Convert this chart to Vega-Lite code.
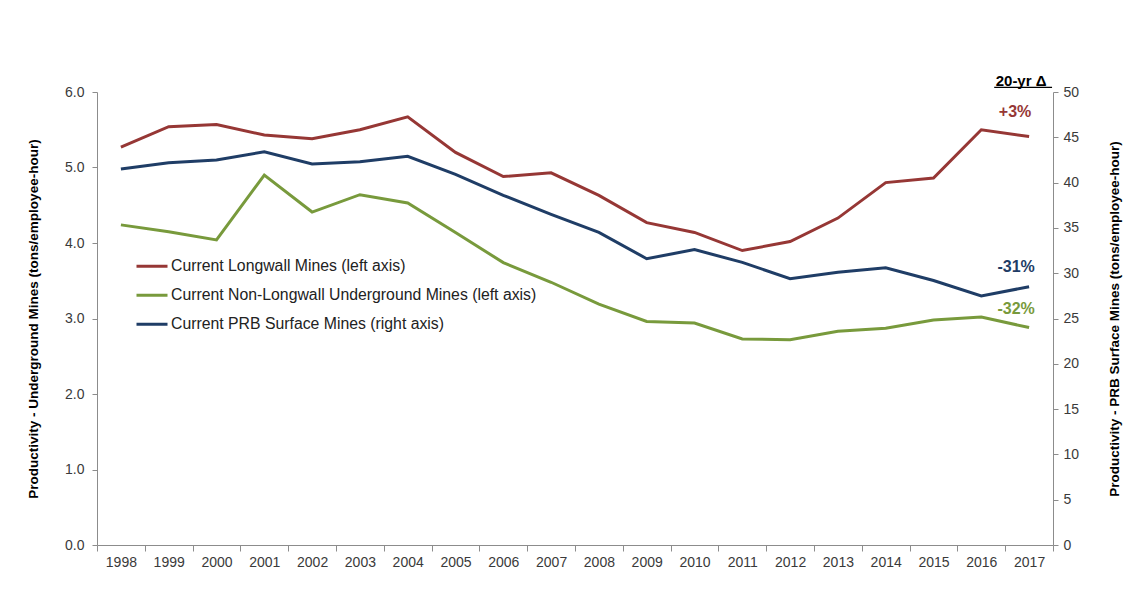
{
  "$schema": "https://vega.github.io/schema/vega-lite/v6.json",
  "autosize": "none",
  "width": 956,
  "height": 453,
  "padding": {"left": 97, "top": 92, "right": 93, "bottom": 60},
  "background": "white",
  "config": {
    "font": "Liberation Sans",
    "view": {"stroke": null},
    "axis": {
      "domainColor": "#8c8c8c",
      "tickColor": "#8c8c8c",
      "labelColor": "#3a3a3a",
      "labelFont": "Liberation Sans",
      "labelFontSize": 14,
      "titleFont": "Liberation Sans",
      "titleFontSize": 13.5,
      "titleFontWeight": "bold",
      "titleColor": "#000000",
      "grid": false
    }
  },
  "datasets": {
    "underground": [
      {"year": "1998", "series": "Current Longwall Mines (left axis)", "value": 5.27},
      {"year": "1999", "series": "Current Longwall Mines (left axis)", "value": 5.54},
      {"year": "2000", "series": "Current Longwall Mines (left axis)", "value": 5.57},
      {"year": "2001", "series": "Current Longwall Mines (left axis)", "value": 5.43},
      {"year": "2002", "series": "Current Longwall Mines (left axis)", "value": 5.38},
      {"year": "2003", "series": "Current Longwall Mines (left axis)", "value": 5.50},
      {"year": "2004", "series": "Current Longwall Mines (left axis)", "value": 5.67},
      {"year": "2005", "series": "Current Longwall Mines (left axis)", "value": 5.20},
      {"year": "2006", "series": "Current Longwall Mines (left axis)", "value": 4.88},
      {"year": "2007", "series": "Current Longwall Mines (left axis)", "value": 4.93},
      {"year": "2008", "series": "Current Longwall Mines (left axis)", "value": 4.63},
      {"year": "2009", "series": "Current Longwall Mines (left axis)", "value": 4.27},
      {"year": "2010", "series": "Current Longwall Mines (left axis)", "value": 4.14},
      {"year": "2011", "series": "Current Longwall Mines (left axis)", "value": 3.90},
      {"year": "2012", "series": "Current Longwall Mines (left axis)", "value": 4.02},
      {"year": "2013", "series": "Current Longwall Mines (left axis)", "value": 4.33},
      {"year": "2014", "series": "Current Longwall Mines (left axis)", "value": 4.80},
      {"year": "2015", "series": "Current Longwall Mines (left axis)", "value": 4.86},
      {"year": "2016", "series": "Current Longwall Mines (left axis)", "value": 5.50},
      {"year": "2017", "series": "Current Longwall Mines (left axis)", "value": 5.41},
      {"year": "1998", "series": "Current Non-Longwall Underground Mines (left axis)", "value": 4.24},
      {"year": "1999", "series": "Current Non-Longwall Underground Mines (left axis)", "value": 4.15},
      {"year": "2000", "series": "Current Non-Longwall Underground Mines (left axis)", "value": 4.04},
      {"year": "2001", "series": "Current Non-Longwall Underground Mines (left axis)", "value": 4.90},
      {"year": "2002", "series": "Current Non-Longwall Underground Mines (left axis)", "value": 4.41},
      {"year": "2003", "series": "Current Non-Longwall Underground Mines (left axis)", "value": 4.64},
      {"year": "2004", "series": "Current Non-Longwall Underground Mines (left axis)", "value": 4.53},
      {"year": "2005", "series": "Current Non-Longwall Underground Mines (left axis)", "value": 4.14},
      {"year": "2006", "series": "Current Non-Longwall Underground Mines (left axis)", "value": 3.74},
      {"year": "2007", "series": "Current Non-Longwall Underground Mines (left axis)", "value": 3.48},
      {"year": "2008", "series": "Current Non-Longwall Underground Mines (left axis)", "value": 3.19},
      {"year": "2009", "series": "Current Non-Longwall Underground Mines (left axis)", "value": 2.96},
      {"year": "2010", "series": "Current Non-Longwall Underground Mines (left axis)", "value": 2.94},
      {"year": "2011", "series": "Current Non-Longwall Underground Mines (left axis)", "value": 2.73},
      {"year": "2012", "series": "Current Non-Longwall Underground Mines (left axis)", "value": 2.72},
      {"year": "2013", "series": "Current Non-Longwall Underground Mines (left axis)", "value": 2.83},
      {"year": "2014", "series": "Current Non-Longwall Underground Mines (left axis)", "value": 2.87},
      {"year": "2015", "series": "Current Non-Longwall Underground Mines (left axis)", "value": 2.98},
      {"year": "2016", "series": "Current Non-Longwall Underground Mines (left axis)", "value": 3.02},
      {"year": "2017", "series": "Current Non-Longwall Underground Mines (left axis)", "value": 2.88}
    ],
    "prb": [
      {"year": "1998", "series": "Current PRB Surface Mines (right axis)", "value": 41.5},
      {"year": "1999", "series": "Current PRB Surface Mines (right axis)", "value": 42.2},
      {"year": "2000", "series": "Current PRB Surface Mines (right axis)", "value": 42.5},
      {"year": "2001", "series": "Current PRB Surface Mines (right axis)", "value": 43.4},
      {"year": "2002", "series": "Current PRB Surface Mines (right axis)", "value": 42.05},
      {"year": "2003", "series": "Current PRB Surface Mines (right axis)", "value": 42.3},
      {"year": "2004", "series": "Current PRB Surface Mines (right axis)", "value": 42.9},
      {"year": "2005", "series": "Current PRB Surface Mines (right axis)", "value": 40.9},
      {"year": "2006", "series": "Current PRB Surface Mines (right axis)", "value": 38.6},
      {"year": "2007", "series": "Current PRB Surface Mines (right axis)", "value": 36.5},
      {"year": "2008", "series": "Current PRB Surface Mines (right axis)", "value": 34.5},
      {"year": "2009", "series": "Current PRB Surface Mines (right axis)", "value": 31.6},
      {"year": "2010", "series": "Current PRB Surface Mines (right axis)", "value": 32.6},
      {"year": "2011", "series": "Current PRB Surface Mines (right axis)", "value": 31.2},
      {"year": "2012", "series": "Current PRB Surface Mines (right axis)", "value": 29.4},
      {"year": "2013", "series": "Current PRB Surface Mines (right axis)", "value": 30.1},
      {"year": "2014", "series": "Current PRB Surface Mines (right axis)", "value": 30.6},
      {"year": "2015", "series": "Current PRB Surface Mines (right axis)", "value": 29.2},
      {"year": "2016", "series": "Current PRB Surface Mines (right axis)", "value": 27.5},
      {"year": "2017", "series": "Current PRB Surface Mines (right axis)", "value": 28.5}
    ],
    "note_longwall": [{"year": "2017", "value": 5.735, "label": "+3%"}],
    "note_prb": [{"year": "2017", "value": 3.68, "label": "-31%"}],
    "note_nonlongwall": [{"year": "2017", "value": 3.126, "label": "-32%"}],
    "note_header": [{"year": "2017", "value": 6.146, "label": "20-yr Δ"}],
    "note_underline": [{"from": "2016", "to": "2017", "value": 6.062}]
  },
  "layer": [
    {
      "layer": [
        {
          "data": {"name": "underground"},
          "mark": {"type": "line", "strokeWidth": 3},
          "encoding": {
            "x": {
              "field": "year", "type": "ordinal", "bandPosition": 0.5,
              "scale": {"type": "band", "paddingInner": 0, "paddingOuter": 0},
              "axis": {"title": null, "labelAngle": 0, "tickBand": "extent", "tickSize": 6, "labelPadding": 4}
            },
            "y": {
              "field": "value", "type": "quantitative",
              "scale": {"domain": [0, 6], "nice": false},
              "axis": {"title": "Productivity - Underground Mines (tons/employee-hour)", "values": [0, 1, 2, 3, 4, 5, 6], "format": ".1f", "tickSize": 5, "labelPadding": 8, "titlePadding": 24}
            },
            "color": {
              "field": "series", "type": "nominal",
              "scale": {
                "domain": ["Current Longwall Mines (left axis)", "Current Non-Longwall Underground Mines (left axis)", "Current PRB Surface Mines (right axis)"],
                "range": ["#963735", "#789a3c", "#1f3d66"]
              },
              "legend": {
                "title": null, "orient": "none", "legendX": 38, "legendY": 160,
                "padding": 0, "symbolType": "stroke", "symbolSize": 961, "symbolStrokeWidth": 3,
                "labelFontSize": 15.8, "labelFont": "Liberation Sans", "labelColor": "#222222",
                "labelOffset": 2, "rowPadding": 0, "clipHeight": 28.5, "labelLimit": 600
              }
            }
          }
        },
        {
          "data": {"name": "note_longwall"},
          "mark": {"type": "text", "color": "#963735", "fontSize": 16, "fontWeight": "bold", "dx": -14, "baseline": "middle"},
          "encoding": {
            "x": {"field": "year", "type": "ordinal", "bandPosition": 0.5},
            "y": {"field": "value", "type": "quantitative"},
            "text": {"field": "label"}
          }
        },
        {
          "data": {"name": "note_prb"},
          "mark": {"type": "text", "color": "#1f3d66", "fontSize": 16, "fontWeight": "bold", "dx": -13, "baseline": "middle"},
          "encoding": {
            "x": {"field": "year", "type": "ordinal", "bandPosition": 0.5},
            "y": {"field": "value", "type": "quantitative"},
            "text": {"field": "label"}
          }
        },
        {
          "data": {"name": "note_nonlongwall"},
          "mark": {"type": "text", "color": "#789a3c", "fontSize": 16, "fontWeight": "bold", "dx": -13, "baseline": "middle"},
          "encoding": {
            "x": {"field": "year", "type": "ordinal", "bandPosition": 0.5},
            "y": {"field": "value", "type": "quantitative"},
            "text": {"field": "label"}
          }
        },
        {
          "data": {"name": "note_header"},
          "mark": {"type": "text", "color": "#000000", "fontSize": 15, "fontWeight": "bold", "dx": -8, "baseline": "middle"},
          "encoding": {
            "x": {"field": "year", "type": "ordinal", "bandPosition": 0.5},
            "y": {"field": "value", "type": "quantitative"},
            "text": {"field": "label"}
          }
        },
        {
          "data": {"name": "note_underline"},
          "mark": {"type": "rule", "color": "#000000", "strokeWidth": 1.2},
          "encoding": {
            "x": {"field": "from", "type": "ordinal", "bandPosition": 0.77},
            "x2": {"field": "to", "bandPosition": 0.98},
            "y": {"field": "value", "type": "quantitative"}
          }
        }
      ]
    },
    {
      "data": {"name": "prb"},
      "mark": {"type": "line", "strokeWidth": 3},
      "encoding": {
        "x": {"field": "year", "type": "ordinal", "bandPosition": 0.5},
        "y": {
          "field": "value", "type": "quantitative",
          "scale": {"domain": [0, 50], "nice": false},
          "axis": {"orient": "right", "title": "Productivity - PRB Surface Mines (tons/employee-hour)", "titleAngle": 270, "values": [0, 5, 10, 15, 20, 25, 30, 35, 40, 45, 50], "tickSize": 5, "labelPadding": 5, "titlePadding": 43}
        },
        "color": {"field": "series", "type": "nominal"}
      }
    }
  ],
  "resolve": {"scale": {"y": "independent"}}
}
